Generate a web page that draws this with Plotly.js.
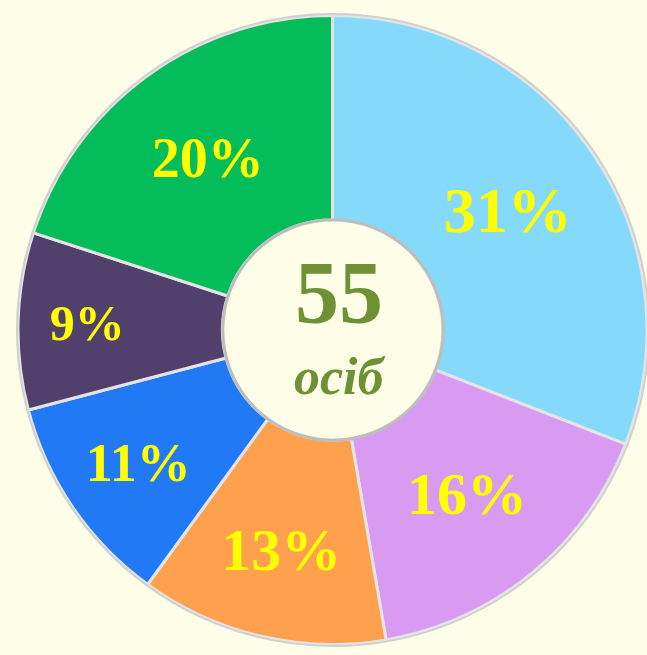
<!DOCTYPE html>
<html>
<head>
<meta charset="utf-8">
<script src="https://cdn.plot.ly/plotly-3.0.1.min.js"></script>
<style>html,body{margin:0;padding:0;background:#FDFDE8;}#chart{width:647px;height:655px;}</style>
</head>
<body>
<div id="chart"></div>
<script>
// Data: number of people in each group (total 55)
const categories = ["Група 1", "Група 2", "Група 3", "Група 4", "Група 5", "Група 6"];
const values = [17, 9, 7, 6, 5, 11];
const colors = ["#85DAFC", "#D99BF2", "#FFA04E", "#2279F6", "#52406C", "#04BC5A"];
const labelSizes = [64, 60, 60, 54, 50, 56];
const totalLabel = "55";
const unitLabel = "осіб";

const W = 647, H = 655;
const cx = 333, cy = 330, R = 315;
const holeFrac = 0.35;

const trace = {
  type: "pie",
  labels: categories,
  values: values,
  sort: false,
  direction: "clockwise",
  rotation: 0,
  hole: holeFrac,
  marker: {colors: colors, line: {color: "#E4E4E4", width: 3}},
  texttemplate: "%{percent:.0%}",
  textinfo: "percent",
  textposition: "inside",
  insidetextorientation: "horizontal",
  textfont: {family: "Liberation Serif, Times New Roman, serif", size: labelSizes, color: "#FFFF00", weight: "bold"},
  hoverinfo: "label+value+percent",
  domain: {x: [(cx - R) / W, (cx + R) / W], y: [(H - cy - R) / H, (H - cy + R) / H]},
  showlegend: false
};

const rh = R * holeFrac;
const layout = {
  width: W, height: H,
  margin: {l: 0, r: 0, t: 0, b: 0},
  paper_bgcolor: "#FDFDE8",
  plot_bgcolor: "#FDFDE8",
  showlegend: false,
  shapes: [
    {type: "circle", xref: "paper", yref: "paper",
     x0: (cx - rh) / W, x1: (cx + rh) / W, y0: (H - cy - rh) / H, y1: (H - cy + rh) / H,
     line: {color: "#BDBDBD", width: 3}, fillcolor: "rgba(0,0,0,0)"},
    {type: "circle", xref: "paper", yref: "paper",
     x0: (cx - R - 1) / W, x1: (cx + R + 1) / W, y0: (H - cy - R - 1) / H, y1: (H - cy + R + 1) / H,
     line: {color: "#D0D0D0", width: 2}, fillcolor: "rgba(0,0,0,0)"}
  ],
  annotations: [
    {text: totalLabel, xref: "paper", yref: "paper", x: (cx + 6) / W, y: (H - 292) / H,
     showarrow: false, xanchor: "center", yanchor: "middle",
     font: {family: "Liberation Serif, Times New Roman, serif", size: 88, color: "#6E9136", weight: "bold"}},
    {text: "<i>" + unitLabel + "</i>", xref: "paper", yref: "paper", x: (cx + 7) / W, y: (H - 376) / H,
     showarrow: false, xanchor: "center", yanchor: "middle",
     font: {family: "Liberation Serif, Times New Roman, serif", size: 52, color: "#6E9136", weight: "bold"}}
  ]
};

Plotly.newPlot("chart", [trace], layout, {displayModeBar: false, staticPlot: true});
</script>
</body>
</html>
